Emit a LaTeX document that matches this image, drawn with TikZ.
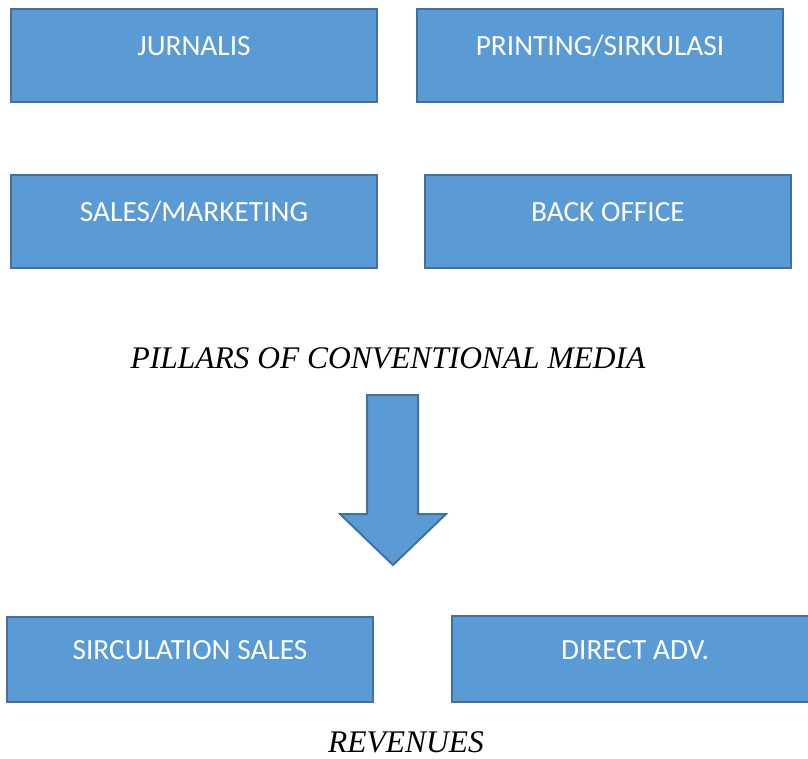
\documentclass[tikz,border=0pt]{standalone}
\usepackage{fontspec}
\setmainfont{Liberation Serif}
\newfontfamily\boxfont{Carlito}
\definecolor{boxfill}{HTML}{5B9BD5}
\definecolor{boxline}{HTML}{41719C}
\tikzset{
    pillar/.style={draw=boxline,fill=boxfill,line width=1.5pt,minimum width=274.5pt,minimum height=69.75pt,
        text=white,font=\boxfont\fontsize{22}{26}\selectfont,text height=12pt,text depth=12pt},
    caption/.style={font=\itshape\fontsize{23.6}{28}\selectfont,anchor=base,inner sep=0pt}
}
\begin{document}
\begin{tikzpicture}[x=0.75pt,y=-0.75pt]
    \useasboundingbox (0,0) rectangle (808,758);
    \node[pillar] (jurnalis) at (194,55.5) {JURNALIS};
    \node[pillar] (printing) at (600,55.5) {PRINTING/SIRKULASI};
    \node[pillar] (sales) at (194,221.5) {SALES/MARKETING};
    \node[pillar] (backoffice) at (608,221.5) {BACK OFFICE};
    \node[caption] (pillars) at (388,368) {PILLARS OF CONVENTIONAL MEDIA};
    % down arrow
    \draw[draw=boxline,fill=boxfill,line width=1.5pt,line join=miter]
        (367,395) -- (418,395) -- (418,514) -- (446,514) -- (393,565) -- (340,514) -- (367,514) -- cycle;
    \node[pillar,minimum height=63.75pt] (sirculation) at (190,659.5) {SIRCULATION SALES};
    \node[pillar,minimum height=64.5pt] (directadv) at (635,659) {DIRECT ADV.};
    \node[caption] (revenues) at (406,752) {REVENUES};
\end{tikzpicture}
\end{document}
